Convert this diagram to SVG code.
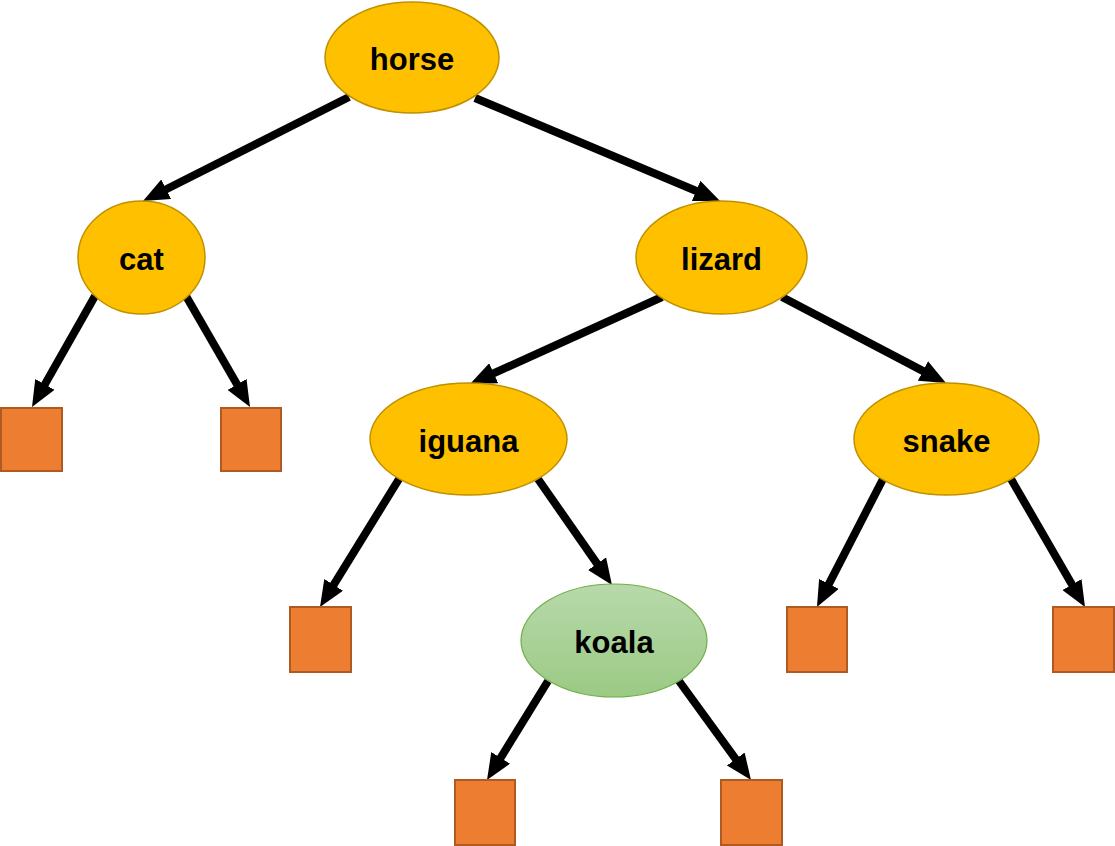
<svg xmlns="http://www.w3.org/2000/svg" width="1115" height="846" viewBox="0 0 1115 846">
<style>
.n{fill:#FFC000;stroke:#BF9000;stroke-width:1.5}
.g{fill:url(#gg);stroke:#70AD47;stroke-width:1.2}
.l{fill:#ED7D31;stroke:#AE5A21;stroke-width:2}
.t{font-family:"Liberation Sans",Arial,sans-serif;font-weight:bold;font-size:31px;fill:#000;text-anchor:middle}
.e{stroke:#000;stroke-width:8;fill:none;marker-end:url(#ah)}
</style>
<defs>
<linearGradient id="gg" x1="0" y1="0" x2="0" y2="1">
<stop offset="0" stop-color="#B8D9AB"/>
<stop offset="1" stop-color="#9BCA84"/>
</linearGradient>
<marker id="ah" markerUnits="userSpaceOnUse" viewBox="0 0 26 22" refX="10" refY="11" markerWidth="26" markerHeight="22" orient="auto">
<path d="M0,0 L26,11 L0,22 z" fill="#000"/>
</marker>
</defs>
<g id="connectors">
<line class="e" x1="349" y1="97" x2="157.3" y2="193.8"/>
<line class="e" x1="475" y1="98" x2="705.3" y2="194.8"/>
<line class="e" x1="95" y1="296" x2="39.9" y2="393.1"/>
<line class="e" x1="186" y1="296" x2="242" y2="393.1"/>
<line class="e" x1="662" y1="297" x2="484.6" y2="377.4"/>
<line class="e" x1="782" y1="297" x2="931.8" y2="375.6"/>
<line class="e" x1="399" y1="479" x2="328.4" y2="593.4"/>
<line class="e" x1="538" y1="479" x2="602.8" y2="571.9"/>
<line class="e" x1="883" y1="479" x2="824.3" y2="592.8"/>
<line class="e" x1="1011" y1="479" x2="1077" y2="593.2"/>
<line class="e" x1="548" y1="681" x2="495.4" y2="766.4"/>
<line class="e" x1="679" y1="681" x2="741.6" y2="767.1"/>
</g>
<g id="horse"><ellipse class="n" cx="412" cy="57.5" rx="87" ry="55.5"/><text class="t" x="412" y="70">horse</text></g>
<g id="cat"><ellipse class="n" cx="141.5" cy="257.5" rx="63.5" ry="56.5"/><text class="t" x="141.5" y="270">cat</text></g>
<g id="lizard"><ellipse class="n" cx="721.5" cy="257.5" rx="85.5" ry="56.5"/><text class="t" x="721.5" y="270">lizard</text></g>
<g id="iguana"><ellipse class="n" cx="468.5" cy="439" rx="98.5" ry="56"/><text class="t" x="468.5" y="451.5">iguana</text></g>
<g id="snake"><ellipse class="n" cx="946.5" cy="439" rx="92.5" ry="56"/><text class="t" x="946.5" y="451.5">snake</text></g>
<g id="koala"><ellipse class="g" cx="614" cy="640.5" rx="93" ry="56.5"/><text class="t" x="614" y="653">koala</text></g>
<g id="leaf1"><rect class="l" x="1" y="408" width="61" height="63"/></g>
<g id="leaf2"><rect class="l" x="221" y="408" width="60" height="63"/></g>
<g id="leaf3"><rect class="l" x="290" y="607" width="61" height="65"/></g>
<g id="leaf4"><rect class="l" x="787" y="607" width="60" height="65"/></g>
<g id="leaf5"><rect class="l" x="1053" y="607" width="61" height="65"/></g>
<g id="leaf6"><rect class="l" x="455" y="780" width="60" height="65"/></g>
<g id="leaf7"><rect class="l" x="721" y="780" width="61" height="65"/></g>
</svg>
